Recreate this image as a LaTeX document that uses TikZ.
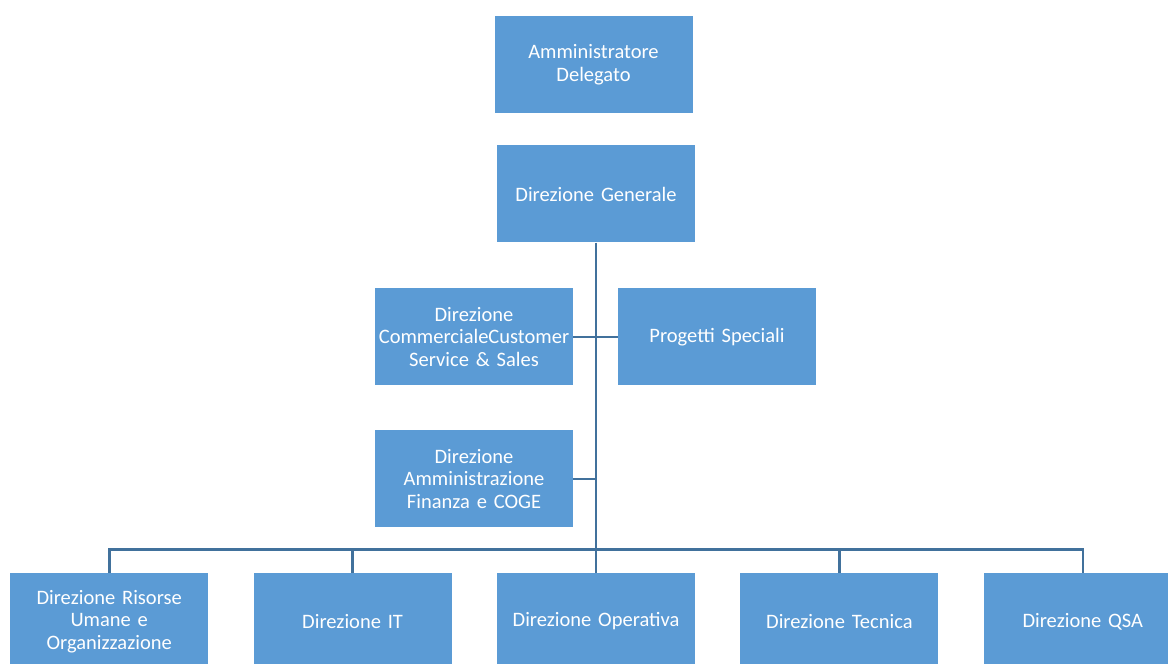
\documentclass[tikz,border=0pt]{standalone}
\usepackage{fontspec}
\setmainfont{Carlito}
\usetikzlibrary{positioning}
\definecolor{boxblue}{HTML}{5B9BD5}
\definecolor{lineblue}{HTML}{41719C}

\begin{document}
\begin{tikzpicture}[x=1pt, y=1pt, node distance=45pt,
  box/.style={fill=boxblue, text=white, minimum width=198pt, minimum height=97pt, text width=198pt, inner sep=0pt, align=center, font=\fontsize{20.5}{22.5}\selectfont},
  link/.style={draw=lineblue, line width=2.6pt}]
\useasboundingbox (0,0) rectangle (1168,664);

\node[box] (dg) at (596,470) {Direzione Generale};
\node[box, above=32pt of dg.north, anchor=south, xshift=-2.5pt] (ad) {Amministratore\\Delegato};
\node[box] (dc) at (474,327) {Direzione\\CommercialeCustomer\\Service \& Sales};
\node[box] (ps) at (717,327) {Progetti Speciali};
\node[box] (da) at (474,185) {Direzione\\Amministrazione\\Finanza e COGE};

\node[box] (b3) at (596,42.5) {Direzione Operativa};
\node[box, left=of b3] (b2) {Direzione IT};
\node[box, left=of b2] (b1) {Direzione Risorse\\Umane e\\Organizzazione};
\node[box, right=of b3] (b4) {Direzione Tecnica};
\node[box, right=of b4] (b5) {Direzione QSA};

\draw[link] (dg.south) -- (b3.north);
\draw[link] (dc.east) -- (ps.west);
\draw[link] (da.east) -- (da.east -| dg.south);
\draw[link] (b1.north) -- ++(0,23) coordinate (bus) -| (b5.north);
\draw[link] (b2.north) -- (b2.north |- bus);
\draw[link] (b4.north) -- (b4.north |- bus);
\end{tikzpicture}
\end{document}
